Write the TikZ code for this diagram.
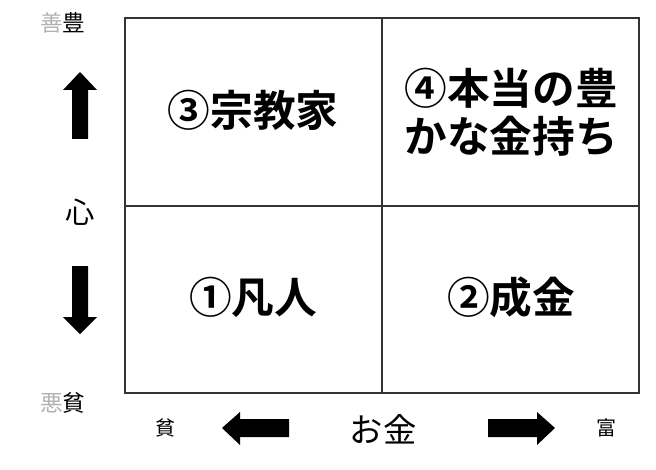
\documentclass[tikz,border=0pt]{standalone}
\usepackage{fontspec}
\newfontfamily\jpfont{Noto Sans CJK JP}
\newfontfamily\jpbold{Noto Sans CJK JP Bold}
\usetikzlibrary{positioning}

\begin{document}
\begin{tikzpicture}[x=0.75pt,y=-0.75pt,
  cell/.style={font=\jpbold\fontsize{32}{36}\selectfont,align=center},
  side/.style={font=\jpfont\fontsize{17}{19}\selectfont,inner sep=0pt}]
  \useasboundingbox (0,0) rectangle (656,470);
  % grid
  \draw[thick,black!80] (125,18) rectangle (639,393);
  \draw[thick,black!80] (382,18)--(382,393);
  \draw[thick,black!80] (125,206)--(639,206);
  % cells
  \node[cell] (shukyo) at (253,110) {③宗教家};
  \node[cell] (kanemochi) at (511,112) {④本当の豊\\かな金持ち};
  \node[cell] (bonjin) at (253,297) {①凡人};
  \node[cell] (narikin) at (511,297) {②成金};
  % left axis
  \node[side] (top) at (63,23) {\textcolor{black!30}{善}豊};
  \node[side] (bottom) at (63,403) {\textcolor{black!30}{悪}貧};
  \node[font=\jpfont\fontsize{22}{26}\selectfont] (kokoro) at (80,212) {心};
  \fill (72,139)--(72,90)--(63,90)--(80,72)--(97,90)--(88,90)--(88,139)--cycle;
  \fill (72,266)--(72,317)--(63,317)--(80,334)--(97,317)--(88,317)--(88,266)--cycle;
  % bottom axis
  \node[side,font=\jpfont\fontsize{15}{17}\selectfont] (hin) at (165,428) {貧};
  \node[font=\jpfont\fontsize{25}{28}\selectfont] (okane) at (383,429) {お金};
  \node[side,font=\jpfont\fontsize{15}{17}\selectfont] (tomi) at (606,428) {富};
  \fill (289,419)--(240,419)--(240,412)--(222,428)--(240,445)--(240,437)--(289,437)--cycle;
  \fill (488,419)--(537,419)--(537,412)--(555,428)--(537,445)--(537,437)--(488,437)--cycle;
\end{tikzpicture}
\end{document}
